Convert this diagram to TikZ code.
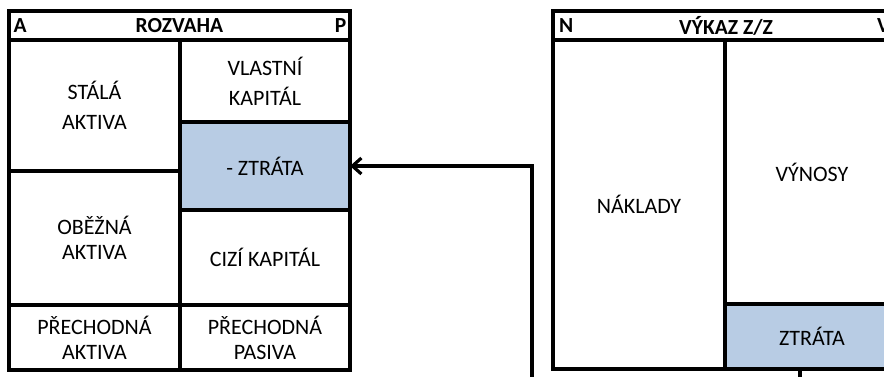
\documentclass[tikz,border=0pt]{standalone}
\usepackage{fontspec}
\setmainfont{Carlito}
\usetikzlibrary{arrows.meta}
\definecolor{lossblue}{RGB}{184,204,228}
\begin{document}
\begin{tikzpicture}[x=1pt,y=-1pt,
  cell/.style={draw, line width=3.4pt, inner sep=0pt, outer sep=0pt, anchor=north west, align=center, font=\fontsize{22}{25}\selectfont},
  wide/.style={font=\fontsize{22}{30}\selectfont},
  loss/.style={fill=lossblue},
  hdr/.style={inner sep=0pt, font=\fontsize{21.5}{23}\selectfont\bfseries},
  conn/.style={line width=3.2pt, -{Straight Barb[length=9pt,width=16pt,line width=3.2pt]}}]
\useasboundingbox (0,0) rectangle (884,376);
\clip (0,0) rectangle (884,376);
% balance sheet
\node[cell, minimum width=341pt, minimum height=29pt] (rozh) at (9,11) {};
\node[hdr] (rozt) at (rozh.center) {ROZVAHA};
\node[hdr, anchor=west] (ra) at ([xshift=4.5pt]rozh.west) {A};
\node[hdr, anchor=east] (rp) at ([xshift=-3.5pt]rozh.east) {P};
\node[cell, wide, minimum width=171pt, minimum height=131pt] (stala) at (9,40) {STÁLÁ\\AKTIVA};
\node[cell, minimum width=171pt, minimum height=134pt] (obezna) at (9,171) {OBĚŽNÁ\\AKTIVA};
\node[cell, minimum width=171pt, minimum height=65pt] (precha) at (9,305) {PŘECHODNÁ\\AKTIVA};
\node[cell, wide, minimum width=170pt, minimum height=82pt] (vlastni) at (180,40) {VLASTNÍ\\KAPITÁL};
\node[cell, loss, minimum width=170pt, minimum height=88pt] (minus) at (180,122) {- ZTRÁTA};
\node[cell, minimum width=170pt, minimum height=95pt] (cizi) at (180,210) {CIZÍ KAPITÁL};
\node[cell, minimum width=170pt, minimum height=65pt] (prechp) at (180,305) {PŘECHODNÁ\\PASIVA};
% income statement
\node[cell, minimum width=346pt, minimum height=29pt] (vzzh) at (553,11) {};
\node[hdr] (vzzt) at (vzzh.center) {VÝKAZ Z/Z};
\node[hdr, anchor=west] (vn) at ([xshift=6pt]vzzh.west) {N};
\node[hdr, anchor=west] (vv) at ([xshift=-22pt]vzzh.east) {V};
\node[cell, minimum width=172pt, minimum height=329pt] (naklady) at (553,40) {NÁKLADY};
\node[cell, minimum width=174pt, minimum height=264pt] (vynosy) at (725,40) {VÝNOSY};
\node[cell, loss, minimum width=174pt, minimum height=65pt] (ztrata) at (725,304) {ZTRÁTA};
% connector
\coordinate (turn) at (532,400);
\draw[conn] ([xshift=-12pt]ztrata.south) |- (turn) |- (minus.east);
\end{tikzpicture}
\end{document}
